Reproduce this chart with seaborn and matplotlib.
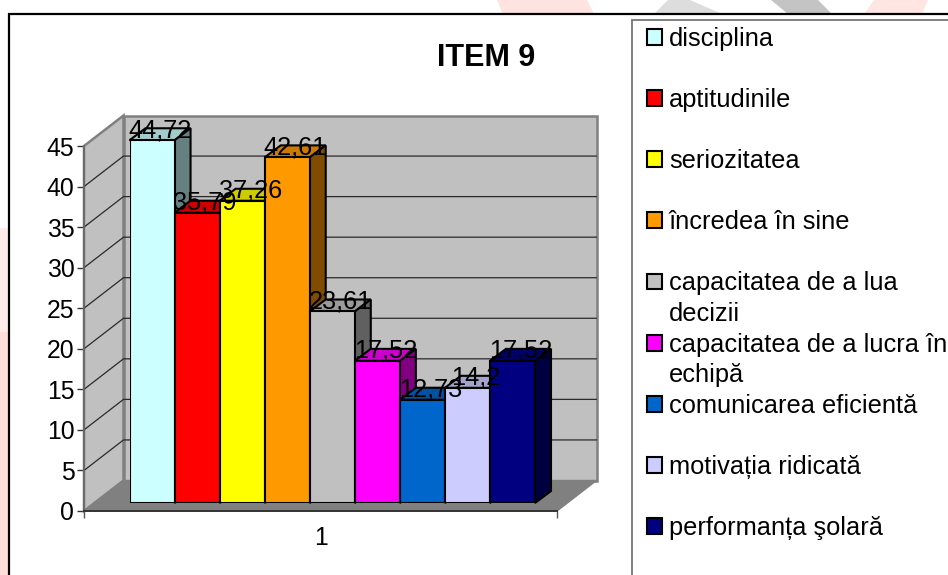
import matplotlib
matplotlib.use("Agg")
import matplotlib.pyplot as plt
import seaborn as sns
from matplotlib.patches import Patch, Polygon, Rectangle

# Valori
categorii = ["disciplina", "aptitudinile", "seriozitatea", "încredea în sine",
             "capacitatea de a lua decizii", "capacitatea de a lucra în echipă",
             "comunicarea eficientă", "motivația ridicată", "performanța şolară"]
valori = [44.72, 35.79, 37.26, 42.61, 23.61, 17.52, 12.73, 14.2, 17.52]
culori = ["#CCFFFF", "#FF0000", "#FFFF00", "#FF9900", "#C0C0C0",
          "#FF00FF", "#0066CC", "#CCCCFF", "#000080"]
etichete_legenda = ["disciplina", "", "aptitudinile", "", "seriozitatea", "",
                    "încredea în sine", "", "capacitatea de a lua", "decizii",
                    "capacitatea de a lucra în", "echipă", "comunicarea eficientă", "",
                    "motivația ridicată", "", "performanța şolară"]
culori_legenda = ["#CCFFFF", None, "#FF0000", None, "#FFFF00", None, "#FF9900", None,
                  "#C0C0C0", None, "#FF00FF", None, "#0066CC", None, "#CCCCFF", None, "#000080"]
y_ticks = [0, 5, 10, 15, 20, 25, 30, 35, 40, 45]

W, H = 948, 575
sns.set_theme(style="white")
plt.rcParams["font.family"] = ["Liberation Sans", "DejaVu Sans"]


def ax_pixeli(x0, y_sus, x1, y_jos):
    return [x0 / W, 1 - y_jos / H, (x1 - x0) / W, (y_jos - y_sus) / H]


def dreptunghi(x0, y0, x1, y1, **kw):
    return Rectangle((x0 / W, 1 - y1 / H), (x1 - x0) / W, (y1 - y0) / H,
                     transform=fig.transFigure, **kw)


def poligon_fig(puncte, **kw):
    return Polygon([(x / W, 1 - y / H) for x, y in puncte], transform=fig.transFigure, **kw)


def intuneca(culoare, f):
    r, g, b = matplotlib.colors.to_rgb(culoare)
    return (r * f, g * f, b * f)


fig = plt.figure(figsize=(W / 100, H / 100), dpi=100, facecolor="white")

# fundalul paginii din spatele graficului
fig.add_artist(dreptunghi(0, 228, 9, 332, facecolor="#FFECEA", edgecolor="none", zorder=-5))
fig.add_artist(dreptunghi(0, 332, 9, 575, facecolor="#FFDDD9", edgecolor="none", zorder=-5))
fig.add_artist(poligon_fig([(497, 0), (587, 0), (594, 14), (503, 14)], facecolor="#FFE3E0", edgecolor="none", zorder=-5))
fig.add_artist(poligon_fig([(668, 0), (690, 0), (722, 14), (654, 14)], facecolor="#DDDDDD", edgecolor="none", zorder=-5))
fig.add_artist(poligon_fig([(771, 0), (818, 0), (832, 14), (788, 14)], facecolor="#C4C4C4", edgecolor="none", zorder=-5))
fig.add_artist(poligon_fig([(874, 0), (928, 0), (922, 14), (864, 14)], facecolor="#FFE6E3", edgecolor="none", zorder=-5))

# rama graficului si caseta legendei (ies din imagine)
fig.add_artist(dreptunghi(9, 14, 1010, 640, facecolor="white", edgecolor="black", linewidth=1.6, zorder=-4))
fig.add_artist(dreptunghi(632, 20, 1010, 640, facecolor="white", edgecolor="#808080", linewidth=1.4, zorder=-3))

# planul din fata: axa valorilor
ax = fig.add_axes(ax_pixeli(84, 146, 557, 511), facecolor="none", zorder=1)
ax.set_xlim(0, 1)
ax.set_ylim(0, 45)
dx = 39.5 / 473
dy = 30.5 * 45 / 365

perete = dict(facecolor="#C0C0C0", edgecolor="#808080", linewidth=1.8, clip_on=False, zorder=1)
ax.add_patch(Polygon([(0, 0), (0, 45), (dx, 45 + dy), (dx, dy)], **perete))
ax.add_patch(Polygon([(dx, dy), (dx, 45 + dy), (1 + dx, 45 + dy), (1 + dx, dy)], **perete))
ax.add_patch(Polygon([(0, 0), (dx, dy), (1 + dx, dy), (1, 0)], facecolor="#808080",
                     edgecolor="#808080", linewidth=1, clip_on=False, zorder=2))
for v in y_ticks[1:-1]:
    ax.plot([0, dx, 1 + dx], [v, v + dy, v + dy], color="#2a2a2a", linewidth=0.9,
            clip_on=False, zorder=2, solid_joinstyle="miter")

ax.set_yticks(y_ticks)
ax.set_xticks([0, 1])
ax.set_xticklabels(["", ""])
ax.set_xticks([0.5], labels=["1"], minor=True)
ax.tick_params(axis="y", labelsize=17.8, length=5, width=1, color="#333333", pad=2, labelcolor="black", left=True)
ax.tick_params(axis="x", which="major", length=5, width=1, color="#555555", bottom=True)
ax.tick_params(axis="x", which="minor", length=0, labelsize=17.8, pad=11, labelcolor="black")
sns.despine(ax=ax, top=True, right=True)
ax.spines["left"].set_color("#666666")
ax.spines["left"].set_linewidth(1.2)
ax.spines["bottom"].set_color("#333333")
ax.spines["bottom"].set_linewidth(1.4)

# barele: planul lor e mutat in adancime fata de axa
ax_bare = fig.add_axes(ax_pixeli(129.5, 138, 535, 503), facecolor="none", zorder=2)
sns.barplot(x=categorii, y=valori, hue=categorii, palette=culori, legend=False,
            width=1, gap=0, dodge=False, edgecolor="black", linewidth=1.5,
            saturation=1, ax=ax_bare)
ax_bare.set_xlim(-0.5, 8.5)
ax_bare.set_ylim(0, 45)
ax_bare.axis("off")

adanc_x = 16 / 45.05
adanc_y = 12 * 45 / 365
bare = sorted(ax_bare.patches, key=lambda p: p.get_x())
for i, (bara, culoare, v) in enumerate(zip(bare, culori, valori)):
    st = bara.get_x()
    dr = st + bara.get_width()
    sus = bara.get_height()
    bara.set_zorder(2 * i + 3)
    stil = dict(edgecolor="black", linewidth=1.5, clip_on=False, zorder=2 * i + 2, joinstyle="miter")
    ax_bare.add_patch(Polygon([(st, sus), (st + adanc_x, sus + adanc_y), (dr + adanc_x, sus + adanc_y), (dr, sus)],
                              facecolor=intuneca(culoare, 0.8), **stil))
    ax_bare.add_patch(Polygon([(dr, 0), (dr + adanc_x, adanc_y), (dr + adanc_x, sus + adanc_y), (dr, sus)],
                              facecolor=intuneca(culoare, 0.5), **stil))
    ax_bare.text((st + dr) / 2 + adanc_x / 2, sus + 0.4, str(v).replace(".", ","),
                 ha="center", va="baseline", fontsize=18.3, color="black", zorder=50, clip_on=False)

fig.text(486 / W, 1 - 58 / H, "ITEM 9", ha="center", va="center", fontsize=22,
         fontweight="bold", color="black")

# legenda, cu randuri goale pentru spatiere
handles = [Patch(facecolor=c, edgecolor="black", linewidth=1.5) if c else
           Patch(facecolor="none", edgecolor="none") for c in culori_legenda]
fig.legend(handles, etichete_legenda, loc="upper left", bbox_to_anchor=(647 / W, 1 - 27 / H),
           frameon=False, fontsize=18.3, handlelength=0.58, handleheight=0.58,
           handletextpad=0.28, labelspacing=0.258, borderpad=0, borderaxespad=0,
           labelcolor="black")

fig.savefig("out.png", dpi=100)
